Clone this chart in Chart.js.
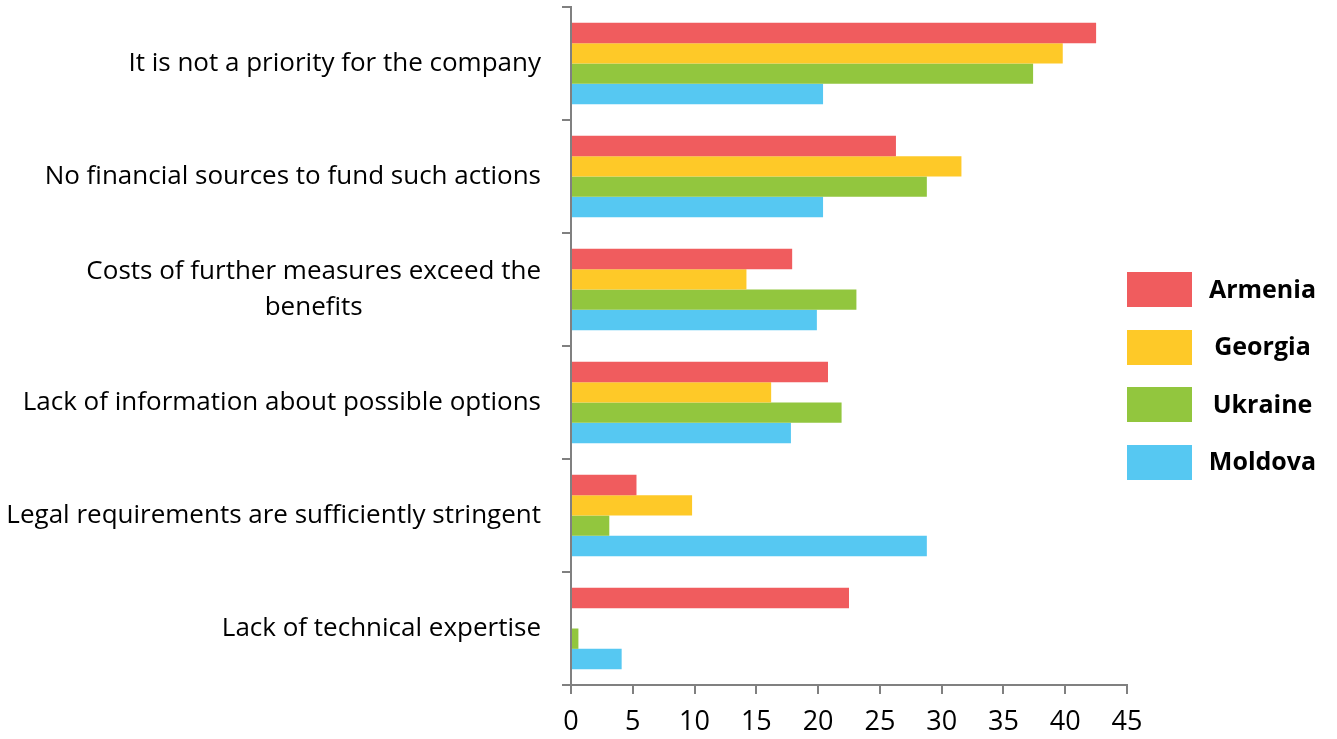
<!DOCTYPE html>
<html>
<head>
<meta charset="utf-8">
<script src="https://cdn.jsdelivr.net/npm/chart.js@4"></script>
<style>
  html, body { margin: 0; padding: 0; background: #ffffff; }
  #wrap { position: relative; width: 1337px; height: 739px; }
  #c { position: absolute; left: 0; top: 0; }
  #legend { position: absolute; left: 1127px; top: 272px; width: 210px; font-family: "Open Sans", sans-serif; font-weight: bold; font-size: 25px; color: #000; }
  .item { display: flex; align-items: center; height: 35px; margin-bottom: 22.5px; }
  .box { width: 65px; height: 35px; flex: none; }
  .lab { flex: 1; text-align: center; padding-right: 4px; position: relative; top: -2px; }
</style>
</head>
<body>
<div id="wrap">
  <canvas id="c" width="1337" height="739"></canvas>
  <div id="legend"></div>
</div>
<script>
const categories = [
  "It is not a priority for the company",
  "No financial sources to fund such actions",
  ["Costs of further measures exceed the", "benefits"],
  "Lack of information about possible options",
  "Legal requirements are sufficiently stringent",
  "Lack of technical expertise"
];
const seriesNames = ["Armenia", "Georgia", "Ukraine", "Moldova"];
const armenia = [42.5, 26.3, 17.9, 20.8, 5.3, 22.5];
const georgia = [39.8, 31.6, 14.2, 16.2, 9.8, 0];
const ukraine = [37.4, 28.8, 23.1, 21.9, 3.1, 0.6];
const moldova = [20.4, 20.4, 19.9, 17.8, 28.8, 4.1];
const xTicks = [0, 5, 10, 15, 20, 25, 30, 35, 40, 45];
const colors = ["#F05C5E", "#FEC928", "#92C63E", "#56C8F2"];

const seriesValues = [armenia, georgia, ukraine, moldova];
const FONT = '"Open Sans", sans-serif';
const AXIS = "#808080";

const yLabelPlugin = {
  id: "yLabels",
  afterDraw(chart) {
    const ys = chart.scales.y;
    const ctx = chart.ctx;
    ctx.save();
    ctx.font = "26px " + FONT;
    ctx.fillStyle = "#000";
    ctx.textBaseline = "middle";
    ctx.textAlign = "center";
    const xRight = ys.right - 30;
    const lh = 36;
    categories.forEach((lab, i) => {
      const lines = Array.isArray(lab) ? lab : [lab];
      const w = Math.max(...lines.map(l => ctx.measureText(l).width));
      const cx = xRight - w / 2;
      const yc = ys.getPixelForValue(i);
      const y0 = yc - (lines.length - 1) * lh / 2;
      lines.forEach((l, k) => ctx.fillText(l, cx, y0 + k * lh));
    });
    ctx.restore();
  }
};

new Chart(document.getElementById("c"), {
  type: "bar",
  data: {
    labels: categories,
    datasets: seriesNames.map((n, i) => ({
      label: n,
      data: seriesValues[i],
      backgroundColor: colors[i],
      borderWidth: 0,
      categoryPercentage: 0.72,
      barPercentage: 1.0
    }))
  },
  options: {
    indexAxis: "y",
    responsive: false,
    animation: false,
    layout: { padding: { left: 0, right: 210, top: 7, bottom: 0 } },
    plugins: { legend: { display: false }, tooltip: { enabled: false } },
    scales: {
      x: {
        min: 0, max: 45,
        afterBuildTicks(s) { s.ticks = xTicks.map(v => ({ value: v })); },
        border: { display: true, color: AXIS, width: 2 },
        grid: { display: true, drawOnChartArea: false, drawTicks: true, tickLength: 9, color: AXIS, lineWidth: 2 },
        ticks: { font: { family: FONT, size: 27, lineHeight: 1.5 }, color: "#000", padding: 8, maxRotation: 0, autoSkip: false },
        afterFit(s) { s.height = 54; }
      },
      y: {
        border: { display: true, color: AXIS, width: 2 },
        grid: { display: true, drawOnChartArea: false, drawTicks: true, tickLength: 9, color: AXIS, lineWidth: 2, offset: true },
        ticks: { display: false },
        afterFit(s) { s.width = 571; }
      }
    }
  },
  plugins: [yLabelPlugin]
});

const lg = document.getElementById("legend");
seriesNames.forEach((n, i) => {
  const it = document.createElement("div");
  it.className = "item";
  it.innerHTML = '<div class="box" style="background:' + colors[i] + '"></div><div class="lab">' + n + '</div>';
  lg.appendChild(it);
});
</script>
</body>
</html>
